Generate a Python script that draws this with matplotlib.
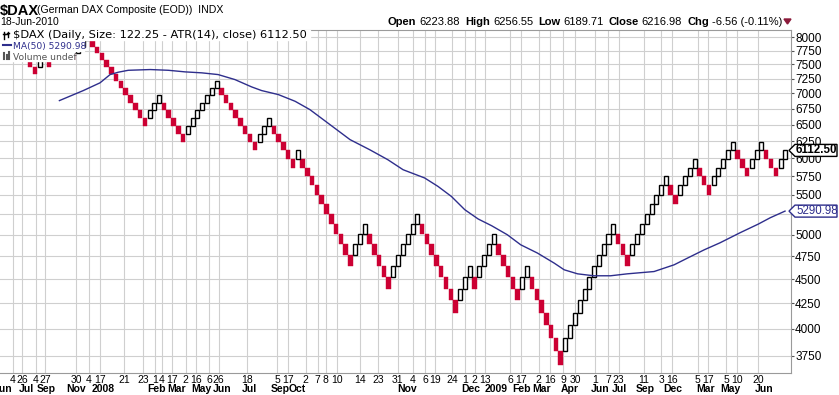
import numpy as np
import matplotlib
matplotlib.use("Agg")
import matplotlib.pyplot as plt
from matplotlib.patches import Polygon, Rectangle
from matplotlib.lines import Line2D
from matplotlib.transforms import IdentityTransform, blended_transform_factory

W, H = 839, 395

# Renko bricks: size, level (in bricks) of the first one, then runs (+ up / - down)
brick_size = 122.25
first_level = 63
first_index = -15
brick_runs = [-4, 2, -1, 3, -2, 3, -12, 3, -5, 7, -8, 3, -5, 1, -11, 3, -5, 6,
              -8, 3, -1, 4, -5, 2, -7, 11, -3, 8, -2, 4, -3, 5, -3, 3, -3, 2]

# MA(50) (x in brick columns)
ma_x = [-6.4, -1.4, 2.1, 4.2, 5.9, 8.0, 12.6, 16.4, 19.9, 23.4, 26.8, 30.3, 33.8,
        35.9, 39.4, 42.9, 46.0, 50.2, 54.4, 58.5, 62.3, 65.5, 70.0, 72.8, 75.6,
        78.4, 81.2, 84.0, 87.3, 90.1, 93.6, 97.1, 99.2, 102.0, 105.4, 108.9,
        112.4, 118.0, 122.2, 125.0, 128.5, 131.8, 136.0, 139.8, 142.3, 145.4]
ma_val = [6881, 7047, 7178, 7320, 7361, 7395, 7408, 7395, 7367, 7350, 7320, 7234, 7109,
          7047, 6980, 6870, 6735, 6499, 6271, 6123, 5979, 5838, 5725, 5611, 5479,
          5309, 5193, 5111, 5002, 4884, 4789, 4676, 4602, 4558, 4537, 4537,
          4558, 4583, 4657, 4732, 4826, 4907, 5026, 5130, 5208, 5291]

y_ticks = [3750, 4000, 4250, 4500, 4750, 5000, 5250, 5500, 5750, 6000,
           6250, 6500, 6750, 7000, 7250, 7500, 7750, 8000]
hidden_y_labels = [5250]   # sits under the MA price tag

day_pos = [-16.2, -14.2, -11.4, -9.4, -2.9, -0.2, 2.1, 7.1, 11.1, 13.6, 15.0, 17.1,
           20.0, 22.2, 24.9, 26.9, 32.8, 39.2, 41.5, 45.1, 47.6, 49.3, 51.7, 56.5,
           60.3, 64.4, 67.5, 70.1, 72.2, 75.7, 78.4, 80.5, 82.7, 87.9, 90.1, 93.9,
           96.2, 99.0, 101.5, 105.6, 108.4, 110.6, 115.9, 119.5, 121.8, 127.1,
           129.3, 133.1, 135.3, 139.8]
day_labels = ["4", "26", "4", "27", "30", "4", "17", "21", "23", "1", "4", "17",
              "2", "16", "6", "26", "18", "5", "17", "2", "7", "8", "10", "14",
              "23", "31", "4", "6", "19", "24", "1", "2", "13", "6", "17", "2",
              "16", "9", "30", "1", "7", "23", "11", "3", "16", "5",
              "17", "5", "10", "20"]
month_pos = [-18.2, -13.2, -9.2, -2.9, 2.7, 14.0, 18.2, 23.2, 27.6, 33.3, 39.7, 43.3,
             66.3, 79.7, 84.9, 90.2, 94.4, 100.4, 106.7, 110.7, 116.1, 122.0, 128.7,
             133.9, 141.0]
month_labels = ["Jun", "Jul", "Sep", "Nov", "2008", "Feb", "Mar", "May", "Jun", "Jul",
                "Sep", "Oct", "Nov", "Dec", "2009", "Feb", "Mar", "Apr", "Jun", "Jul",
                "Sep", "Dec", "Mar", "May", "Jun"]

header_parts = [("Open", "bold"), ("6223.88", "normal"), ("High", "bold"),
                ("6256.55", "normal"), ("Low", "bold"), ("6189.71", "normal"),
                ("Close", "bold"), ("6216.98", "normal"), ("Chg", "bold"),
                ("-6.56 (-0.11%)", "normal")]

last_close = 6112.50
last_ma = 5290.98

RED = "#cc0033"
NAVY = "#2e2e8c"
GRID = "#cfcfcf"
ARIAL = "Liberation Sans"


def fx(px):
    return px / W


def fy(py):
    return 1 - py / H


# build the bricks from the runs
levels, ups = [], []
level = None
for run in brick_runs:
    step = 1 if run > 0 else -1
    for _ in range(abs(run)):
        level = first_level if level is None else level + step
        levels.append(level)
        ups.append(step > 0)
levels = np.array(levels)
ups = np.array(ups)
idx = first_index + np.arange(len(levels))

fig = plt.figure(figsize=(W / 100, H / 100), dpi=100)
ax = fig.add_axes([0, fy(372.5), fx(791), (372.5 - 29.5) / H])
ax.set_yscale("log")
ax.set_xlim(-18.83, 146.65)
ax.set_ylim(3605, 8148)

ax.bar(idx[~ups], brick_size, bottom=levels[~ups] * brick_size, width=0.94,
       align="edge", color=RED, edgecolor=RED, linewidth=0.3, zorder=3)
ax.bar(idx[ups] + 0.05, brick_size, bottom=levels[ups] * brick_size, width=0.84,
       align="edge", facecolor="white", edgecolor="black", linewidth=1.0, zorder=3)

ax.plot(ma_x, ma_val, color=NAVY, lw=1.0, zorder=4)

# axes styling
ax.yaxis.tick_right()
ax.set_yticks(y_ticks)
ax.set_yticklabels(["" if v in hidden_y_labels else str(v) for v in y_ticks])
ax.yaxis.set_minor_locator(matplotlib.ticker.NullLocator())
ax.tick_params(axis="y", length=2, pad=1, labelsize=8.5, colors="#555555",
               labelcolor="black")
for lab in ax.get_yticklabels():
    lab.set_fontfamily(ARIAL)
ax.set_xticks(day_pos)
ax.set_xticklabels([])
ax.tick_params(axis="x", length=0)
ax.grid(True, color=GRID, lw=0.8, zorder=0)
ax.set_axisbelow(True)
for side in ["top", "right", "bottom"]:
    ax.spines[side].set_color("#9a9a9a")
    ax.spines[side].set_linewidth(0.8)
ax.spines["left"].set_visible(False)

lab_tr = blended_transform_factory(ax.transData, fig.transFigure)
for pos, lab in zip(day_pos, day_labels):
    ax.text(pos, fy(383), lab, transform=lab_tr, ha="center", va="baseline",
            fontsize=7.5, family=ARIAL, clip_on=False)
for pos, lab in zip(month_pos, month_labels):
    ax.text(pos, fy(392.5), lab, transform=lab_tr, ha="center", va="baseline",
            fontsize=7.5, fontweight="bold", family=ARIAL, clip_on=False)

# header
fig.text(fx(0), fy(14.5), "$DAX", fontsize=10.5, fontweight="bold", family=ARIAL,
         va="baseline")
fig.text(fx(37), fy(13), "(German DAX Composite (EOD))  INDX", fontsize=7.6,
         family=ARIAL, va="baseline")
fig.text(fx(0), fy(25), "18-Jun-2010", fontsize=7.5, family=ARIAL, va="baseline")

renderer = fig.canvas.get_renderer()
x = 388
for txt, weight in header_parts:
    t = fig.text(fx(x), fy(25), txt, fontsize=8, fontweight=weight, family=ARIAL,
                 va="baseline")
    x += t.get_window_extent(renderer).width + (3 if weight == "bold" else 5)
tri = Polygon([(fx(784), fy(19)), (fx(791), fy(19)), (fx(787.5), fy(24))],
              closed=True, transform=fig.transFigure, color="#8b1a3a")
fig.add_artist(tri)

# legend, with white backing like the original
for (x1, y0, y1) in [(310, 30.5, 40), (84, 40, 50.5), (74, 50.5, 61)]:
    fig.add_artist(Rectangle((fx(0), fy(y1)), fx(x1), (y1 - y0) / H,
                             transform=fig.transFigure, color="white", zorder=5))
fig.text(fx(13), fy(38.5), "$DAX (Daily, Size: 122.25 - ATR(14), close) 6112.50",
         fontsize=8.2, family="DejaVu Sans", va="baseline", zorder=6)
fig.text(fx(13), fy(49), "MA(50) 5290.98", fontsize=6.6, family="DejaVu Sans",
         color=NAVY, va="baseline", zorder=6)
fig.text(fx(13), fy(59.5), "Volume undef", fontsize=6.6, family="DejaVu Sans",
         color="#555555", va="baseline", zorder=6)
# small icons
for xs, ys in [([4, 4], [31.5, 38.5]), ([8, 8], [31.5, 37]), ([3, 5], [34, 34]),
               ([7, 9], [33, 33]), ([4, 8], [33.5, 33.5])]:
    fig.add_artist(Line2D([fx(v) for v in xs], [fy(v) for v in ys], color="black",
                          lw=1, zorder=6))
fig.add_artist(Line2D([fx(3), fx(11)], [fy(45), fy(45)], color=NAVY, lw=1.5, zorder=6))
for bx, bh in [(4, 6), (6.5, 4), (9, 7)]:
    fig.add_artist(Line2D([fx(bx), fx(bx)], [fy(59), fy(59 - bh)], color="#555555",
                          lw=1.5, zorder=6))


# price tags on the right axis
def price_tag(value, text, color, weight):
    yd = ax.transData.transform((0, value))[1]
    pts = [(789, yd), (795, yd + 6), (837, yd + 6), (837, yd - 6), (795, yd - 6)]
    fig.add_artist(Polygon(pts, closed=True, transform=IdentityTransform(),
                           facecolor="white", edgecolor=color, lw=1, zorder=7))
    fig.text(fx(796), yd / H, text, fontsize=8.3, fontweight=weight, family=ARIAL,
             color=color, va="center", zorder=8)


price_tag(last_close, "6112.50", "black", "bold")
price_tag(last_ma, "5290.98", NAVY, "normal")

fig.savefig("out.png", dpi=100)
